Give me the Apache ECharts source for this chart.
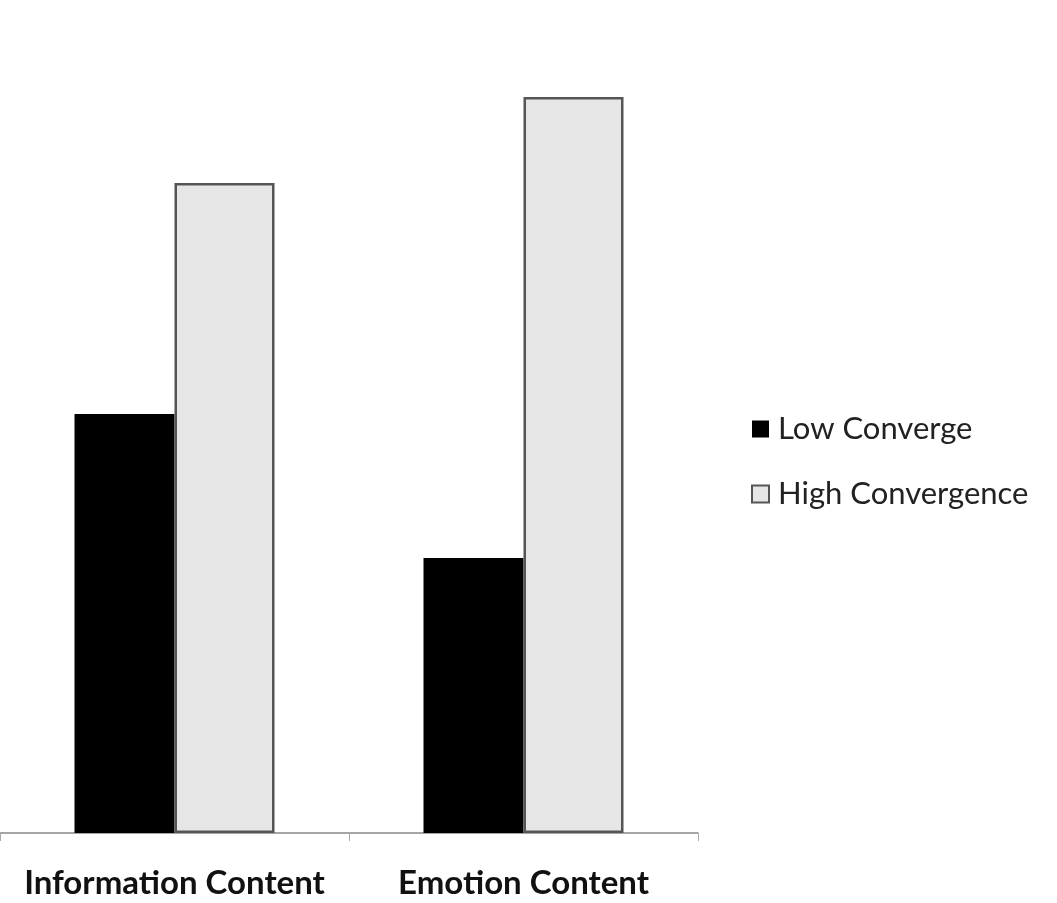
<!DOCTYPE html>
<html>
<head>
<meta charset="utf-8">
<script src="https://cdn.jsdelivr.net/npm/echarts@6/dist/echarts.min.js"></script>
<style>html,body{margin:0;padding:0;background:#fff;}#c{width:1057px;height:903px;}</style>
</head>
<body>
<div id="c"></div>
<script>
const categories = ['Information Content', 'Emotion Content'];
const lowConverge = [4.19, 2.75];
const highConvergence = [6.50, 7.36];
const seriesNames = ['Low Converge', 'High Convergence'];

const chart = echarts.init(document.getElementById('c'));
chart.setOption({
  animation: false,
  backgroundColor: '#fff',
  grid: { left: -10, right: 359, top: 97, bottom: 70 },
  legend: {
    orient: 'vertical',
    left: 746,
    top: 406,
    icon: 'rect',
    itemWidth: 17,
    itemHeight: 17,
    itemGap: 29,
    textStyle: { fontFamily: 'Lato', fontSize: 31, color: '#222', lineHeight: 36, padding: [0, 0, 0, 4] },
    data: seriesNames
  },
  xAxis: {
    type: 'category',
    data: categories,
    axisLine: { lineStyle: { color: '#888', width: 1.5 } },
    axisTick: { show: true, length: 8, lineStyle: { color: '#aaa' } },
    axisLabel: { interval: 0, fontFamily: 'Lato', fontWeight: 'bold', fontSize: 33, color: '#111', margin: 34 }
  },
  yAxis: { type: 'value', min: 0, max: 7.36, show: false, splitLine: { show: false } },
  series: [
    { name: seriesNames[0], type: 'bar', data: lowConverge, barWidth: 100, barGap: '0%',
      itemStyle: { color: '#000' } },
    { name: seriesNames[1], type: 'bar', data: highConvergence, barWidth: 100, barGap: '0%',
      itemStyle: { color: '#e6e6e6', borderColor: '#555', borderWidth: 2.5 } }
  ]
});
</script>
</body>
</html>
